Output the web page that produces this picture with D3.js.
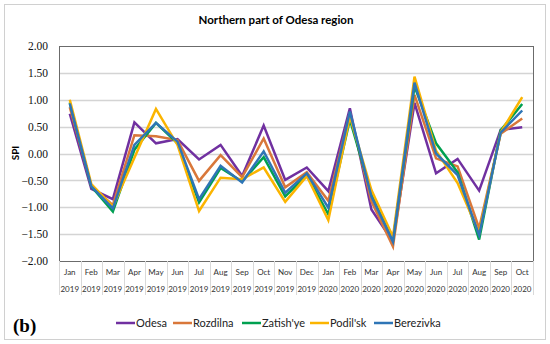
<!DOCTYPE html>
<html>
<head>
<meta charset="utf-8">
<script src="https://cdn.jsdelivr.net/npm/d3@7"></script>
<style>
  body { margin: 0; background: #fff; }
</style>
</head>
<body>
<div id="chart"></div>
<script>
// categories (month / year)
const months = ["Jan","Feb","Mar","Apr","May","Jun","Jul","Aug","Sep","Oct","Nov","Dec",
                "Jan","Feb","Mar","Apr","May","Jun","Jul","Aug","Sep","Oct"];
const years = ["2019","2019","2019","2019","2019","2019","2019","2019","2019","2019","2019","2019",
               "2020","2020","2020","2020","2020","2020","2020","2020","2020","2020"];

// SPI values
const odesa     = [0.74,-0.66,-0.85,0.58,0.19,0.27,-0.11,0.16,-0.42,0.52,-0.49,-0.26,-0.70,0.84,-1.04,-1.64,0.94,-0.37,-0.10,-0.69,0.44,0.49];
const rozdilna  = [0.86,-0.60,-0.96,0.34,0.32,0.25,-0.51,-0.03,-0.44,0.28,-0.63,-0.35,-0.88,0.76,-0.89,-1.73,1.09,-0.09,-0.24,-1.39,0.37,0.65];
const zatishye  = [0.95,-0.61,-1.08,0.07,0.57,0.19,-0.91,-0.27,-0.52,-0.07,-0.80,-0.40,-1.13,0.63,-0.74,-1.61,1.25,0.19,-0.35,-1.60,0.43,0.92];
const podilsk   = [1.00,-0.57,-0.99,-0.08,0.83,0.16,-1.07,-0.45,-0.48,-0.26,-0.90,-0.42,-1.24,0.69,-0.68,-1.55,1.43,0.05,-0.55,-1.48,0.39,1.05];
const berezivka = [0.93,-0.61,-1.02,0.16,0.57,0.22,-0.85,-0.23,-0.54,0.04,-0.73,-0.37,-1.01,0.78,-0.80,-1.64,1.32,0.00,-0.40,-1.52,0.39,0.80];

const seriesNames = ["Odesa","Rozdilna","Zatish'ye","Podil'sk","Berezivka"];
const seriesValues = [odesa, rozdilna, zatishye, podilsk, berezivka];
const seriesColors = ["#7030a0","#d9773a","#00a050","#fbb400","#2e75b6"];
const yTicks = [-2,-1.5,-1,-0.5,0,0.5,1,1.5,2];

const W = 550, H = 344;
const margin = {top: 46, right: 17, bottom: 83, left: 59},
  width = W - margin.left - margin.right,
  height = H - margin.top - margin.bottom;

const svg = d3.select("#chart")
  .append("svg")
    .attr("width", W)
    .attr("height", H);

// outer frame
svg.append("rect")
  .attr("x", 4.5).attr("y", 4.5)
  .attr("width", 541).attr("height", 335)
  .style("fill", "none")
  .style("stroke", "#d0d0d0");

// title
svg.append("text")
  .attr("x", 276).attr("y", 24)
  .attr("text-anchor", "middle")
  .style("font-family", "Lato, 'Open Sans', sans-serif")
  .style("font-weight", "bold")
  .style("font-size", "11.5px")
  .text("Northern part of Odesa region");

const g = svg.append("g")
  .attr("transform", `translate(${margin.left},${margin.top})`);

const x = d3.scaleBand()
  .domain(d3.range(months.length))
  .range([0, width]);

const y = d3.scaleLinear()
  .domain([-2, 2])
  .range([height, 0]);

// gridlines
g.selectAll(".grid")
  .data(yTicks.filter(d => d > -2 && d < 2))
  .join("line")
    .attr("class", "grid")
    .attr("x1", 0).attr("x2", width)
    .attr("y1", d => Math.round(y(d)) + 0.5)
    .attr("y2", d => Math.round(y(d)) + 0.5)
    .style("stroke", "#d4d4d4")
    .style("stroke-width", 1.3);

// plot frame
g.append("rect")
  .attr("x", 0.5).attr("y", 0.5)
  .attr("width", width).attr("height", height)
  .style("fill", "none")
  .style("stroke", "#6b6b6b");

// y axis labels
const yAxis = g.append("g")
  .call(d3.axisLeft(y).tickValues(yTicks).tickSize(0).tickPadding(11)
    .tickFormat(d => d < 0 ? "\u2212" + d3.format(".2f")(-d) : d3.format(".2f")(d)));
yAxis.select(".domain").remove();
yAxis.selectAll("text")
  .style("font-family", "'Liberation Serif', 'DejaVu Serif', serif")
  .style("font-size", "11.5px")
  .style("fill", "#111");

// y axis title
svg.append("text")
  .attr("transform", "translate(19,153) rotate(-90)")
  .attr("text-anchor", "middle")
  .style("font-family", "Lato, 'Open Sans', sans-serif")
  .style("font-weight", "bold")
  .style("font-size", "10px")
  .text("SPI");

// category axis (two rows with separators)
const xAxis = g.append("g").attr("transform", `translate(0,${height})`);
xAxis.selectAll(".sep")
  .data(d3.range(months.length + 1))
  .join("line")
    .attr("class", "sep")
    .attr("x1", i => Math.round(i * x.step()) + 0.5)
    .attr("x2", i => Math.round(i * x.step()) + 0.5)
    .attr("y1", 0).attr("y2", 34)
    .style("stroke", "#d9d9d9");
xAxis.selectAll(".mon")
  .data(months)
  .join("text")
    .attr("class", "mon")
    .attr("x", (d, i) => x(i) + x.bandwidth() / 2)
    .attr("y", 14)
    .attr("text-anchor", "middle")
    .style("font-family", "Lato, 'Open Sans', sans-serif")
    .style("font-size", "8px")
    .style("fill", "#333")
    .text(d => d);
xAxis.selectAll(".yr")
  .data(years)
  .join("text")
    .attr("class", "yr")
    .attr("x", (d, i) => x(i) + x.bandwidth() / 2)
    .attr("y", 31)
    .attr("text-anchor", "middle")
    .style("font-family", "Lato, 'Open Sans', sans-serif")
    .style("font-size", "8px")
    .style("fill", "#333")
    .text(d => d);

// lines
const line = d3.line()
  .x((d, i) => x(i) + x.bandwidth() / 2)
  .y(d => y(d));

g.selectAll(".series")
  .data(seriesValues)
  .join("path")
    .attr("class", "series")
    .attr("d", d => line(d))
    .style("fill", "none")
    .style("stroke", (d, i) => seriesColors[i])
    .style("stroke-width", 2.5)
    .style("stroke-linejoin", "miter");

// legend
const legendX = [116, 173, 242, 310, 374];
const legend = svg.append("g")
  .selectAll("g")
  .data(seriesNames)
  .join("g")
    .attr("transform", (d, i) => `translate(${legendX[i]},327)`);
legend.append("line")
  .attr("x1", 0).attr("x2", 19)
  .attr("y1", -4).attr("y2", -4)
  .style("stroke", (d, i) => seriesColors[i])
  .style("stroke-width", 2.5);
legend.append("text")
  .attr("x", 20).attr("y", 0)
  .style("font-family", "Lato, 'Open Sans', sans-serif")
  .style("font-size", "11px")
  .style("fill", "#222")
  .text(d => d);

// panel tag
svg.append("text")
  .attr("x", 13).attr("y", 332)
  .style("font-family", "'Liberation Serif', 'DejaVu Serif', serif")
  .style("font-weight", "bold")
  .style("font-size", "19px")
  .text("(b)");
</script>
</body>
</html>
